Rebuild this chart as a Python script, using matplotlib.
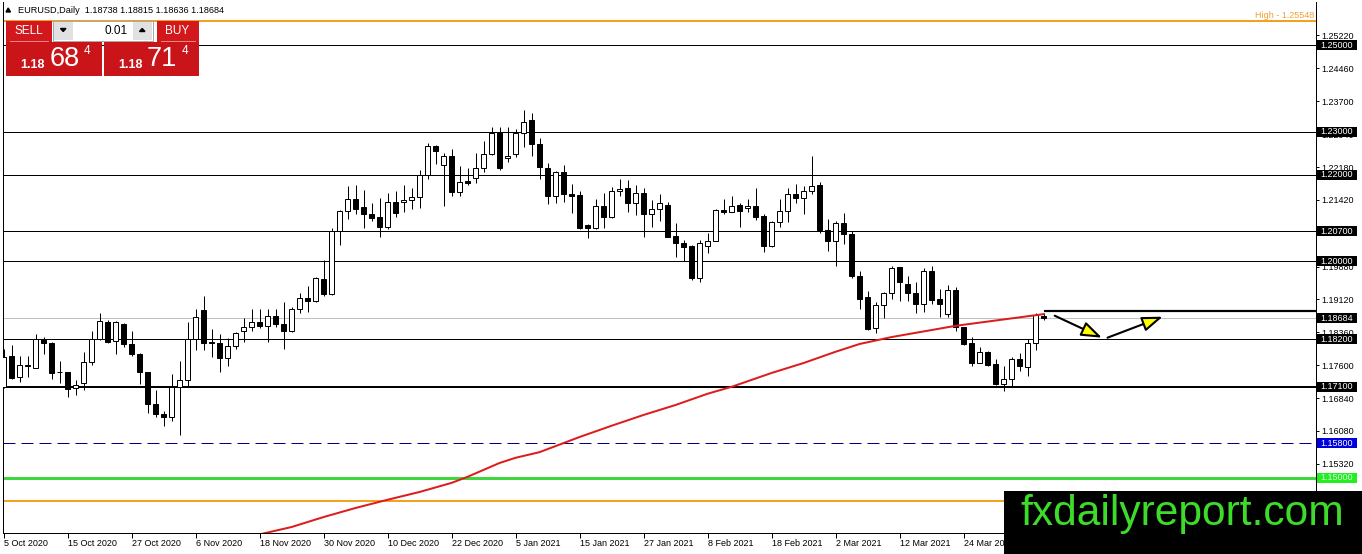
import numpy as np
import matplotlib
matplotlib.use("Agg")
import matplotlib.pyplot as plt
from matplotlib.patches import Rectangle, Polygon

plt.rcParams["font.family"] = ["Liberation Sans", "DejaVu Sans"]

# EURUSD daily candles, 5 Oct 2020 .. 7 Apr 2021
opens = [
    1.1709, 1.1781, 1.1732, 1.1760, 1.1754, 1.1820, 1.1812, 1.1745, 1.1744, 1.1707,
    1.1718, 1.1767, 1.1820, 1.1861, 1.1815, 1.1855, 1.1808, 1.1785, 1.1744, 1.1671,
    1.1647, 1.1640, 1.1709, 1.1725, 1.1821, 1.1888, 1.1813, 1.1812, 1.1776, 1.1804,
    1.1840, 1.1849, 1.1859, 1.1851, 1.1874, 1.1855, 1.1838, 1.1889, 1.1915, 1.1909,
    1.1959, 1.1925, 1.2070, 1.2116, 1.2143, 1.2125, 1.2109, 1.2102, 1.2080, 1.2137,
    1.2137, 1.2142, 1.2148, 1.2200, 1.2267, 1.2223, 1.2244, 1.2160, 1.2186, 1.2192,
    1.2215, 1.2248, 1.2296, 1.2238, 1.2247, 1.2296, 1.2327, 1.2271, 1.2215, 1.2150,
    1.2206, 1.2155, 1.2153, 1.2084, 1.2076, 1.2128, 1.2103, 1.2163, 1.2169, 1.2136,
    1.2157, 1.2109, 1.2120, 1.2130, 1.2059, 1.2042, 1.2036, 1.1962, 1.2036, 1.2047,
    1.2119, 1.2114, 1.2130, 1.2123, 1.2128, 1.2105, 1.2036, 1.2092, 1.2116, 1.2155,
    1.2147, 1.2163, 1.2177, 1.2073, 1.2046, 1.2088, 1.2063, 1.1967, 1.1917, 1.1845,
    1.1898, 1.1926, 1.1986, 1.1947, 1.1926, 1.1901, 1.1978, 1.1913, 1.1878, 1.1934,
    1.1848, 1.1811, 1.1766, 1.1790, 1.1763, 1.1717, 1.1727, 1.1774, 1.1755, 1.1811,
    1.18738,
]
highs = [
    1.1797, 1.1807, 1.1781, 1.1781, 1.1831, 1.1825, 1.1814, 1.1770, 1.1745, 1.1726,
    1.1791, 1.1839, 1.1880, 1.1865, 1.1863, 1.1858, 1.1839, 1.1788, 1.1745, 1.1703,
    1.1654, 1.1740, 1.1770, 1.1859, 1.1891, 1.1920, 1.1843, 1.1832, 1.1822, 1.1836,
    1.1868, 1.1891, 1.1891, 1.1891, 1.1891, 1.1905, 1.1895, 1.1928, 1.1942, 1.1965,
    1.2003, 1.2076, 1.2119, 1.2175, 1.2177, 1.2165, 1.2134, 1.2146, 1.2159, 1.2163,
    1.2177, 1.2169, 1.2211, 1.2273, 1.2270, 1.2251, 1.2259, 1.2220, 1.2215, 1.2250,
    1.2277, 1.2311, 1.2311, 1.2311, 1.2305, 1.2350, 1.2344, 1.2284, 1.2227, 1.2209,
    1.2223, 1.2178, 1.2163, 1.2086, 1.2144, 1.2157, 1.2171, 1.2190, 1.2188, 1.2177,
    1.2169, 1.2142, 1.2155, 1.2138, 1.2089, 1.2049, 1.2038, 1.2049, 1.2065, 1.2120,
    1.2144, 1.2150, 1.2136, 1.2143, 1.2169, 1.2109, 1.2093, 1.2143, 1.2169, 1.2179,
    1.2173, 1.2244, 1.2183, 1.2099, 1.2093, 1.2111, 1.2069, 1.1978, 1.1932, 1.1905,
    1.1930, 1.1989, 1.1988, 1.1966, 1.1952, 1.1984, 1.1989, 1.1935, 1.1945, 1.1940,
    1.1849, 1.1826, 1.1803, 1.1793, 1.1774, 1.1758, 1.1780, 1.1788, 1.1821, 1.1880,
    1.18815,
]
lows = [
    1.1707, 1.1727, 1.1722, 1.1732, 1.1753, 1.1785, 1.1729, 1.1718, 1.1687, 1.1691,
    1.1703, 1.1760, 1.1819, 1.1811, 1.1785, 1.1801, 1.1781, 1.1716, 1.1649, 1.1640,
    1.1620, 1.1630, 1.1599, 1.1712, 1.1794, 1.1794, 1.1778, 1.1744, 1.1758, 1.1797,
    1.1813, 1.1840, 1.1847, 1.1814, 1.1849, 1.1798, 1.1836, 1.1880, 1.1884, 1.1907,
    1.1921, 1.1923, 1.2038, 1.2099, 1.2109, 1.2078, 1.2094, 1.2057, 1.2074, 1.2103,
    1.2115, 1.2120, 1.2124, 1.2190, 1.2225, 1.2128, 1.2151, 1.2152, 1.2177, 1.2180,
    1.2207, 1.2246, 1.2211, 1.2230, 1.2242, 1.2265, 1.2244, 1.2190, 1.2132, 1.2136,
    1.2138, 1.2111, 1.2074, 1.2053, 1.2074, 1.2076, 1.2101, 1.2150, 1.2115, 1.2106,
    1.2057, 1.2080, 1.2094, 1.2056, 1.2011, 1.2001, 1.1957, 1.1952, 1.2019, 1.2046,
    1.2109, 1.2113, 1.2080, 1.2115, 1.2096, 1.2022, 1.2034, 1.2080, 1.2092, 1.2134,
    1.2109, 1.2155, 1.2065, 1.2025, 1.1990, 1.2040, 1.1961, 1.1891, 1.1841, 1.1834,
    1.1868, 1.1913, 1.1909, 1.1909, 1.1880, 1.1884, 1.1902, 1.1871, 1.1872, 1.1840,
    1.1807, 1.1759, 1.1764, 1.1759, 1.1714, 1.1701, 1.1712, 1.1747, 1.1736, 1.1794,
    1.18636,
]
closes = [
    1.1780, 1.1730, 1.1760, 1.1758, 1.1821, 1.1811, 1.1743, 1.1744, 1.1704, 1.1715,
    1.1767, 1.1820, 1.1861, 1.1814, 1.1859, 1.1808, 1.1785, 1.1744, 1.1671, 1.1647,
    1.1640, 1.1709, 1.1725, 1.1821, 1.1871, 1.1811, 1.1811, 1.1776, 1.1804, 1.1834,
    1.1849, 1.1859, 1.1851, 1.1874, 1.1855, 1.1838, 1.1889, 1.1915, 1.1909, 1.1961,
    1.1925, 1.2070, 1.2116, 1.2143, 1.2120, 1.2109, 1.2101, 1.2080, 1.2137, 1.2111,
    1.2142, 1.2148, 1.2200, 1.2267, 1.2255, 1.2244, 1.2160, 1.2184, 1.2180, 1.2215,
    1.2248, 1.2296, 1.2215, 1.2244, 1.2296, 1.2323, 1.2271, 1.2217, 1.2150, 1.2206,
    1.2155, 1.2152, 1.2078, 1.2076, 1.2128, 1.2103, 1.2163, 1.2167, 1.2136, 1.2157,
    1.2109, 1.2120, 1.2134, 1.2057, 1.2042, 1.2034, 1.1962, 1.2042, 1.2047, 1.2119,
    1.2114, 1.2128, 1.2117, 1.2128, 1.2103, 1.2036, 1.2092, 1.2116, 1.2155, 1.2147,
    1.2163, 1.2173, 1.2073, 1.2046, 1.2088, 1.2063, 1.1966, 1.1912, 1.1844, 1.1898,
    1.1926, 1.1984, 1.1952, 1.1926, 1.1901, 1.1978, 1.1911, 1.1902, 1.1934, 1.1848,
    1.1809, 1.1766, 1.1791, 1.1761, 1.1717, 1.1727, 1.1774, 1.1759, 1.1811, 1.1876,
    1.18684,
]

# moving average (red) at these bars
ma_bars = [32, 36, 40, 44, 48, 52, 56, 58, 60, 62, 64, 67, 70, 72, 76, 80,
           84, 88, 91, 96, 100, 104, 107, 111, 119, 130]
ma_vals = [1.1369, 1.1386, 1.1409, 1.1430, 1.1449, 1.1467, 1.1488, 1.1502,
           1.1518, 1.1534, 1.1546, 1.1559, 1.1580, 1.1594, 1.1620, 1.1645,
           1.1668, 1.1694, 1.1710, 1.1742, 1.1765, 1.1791, 1.1809, 1.1825,
           1.1851, 1.1878]

# date axis: one label every 8 bars
date_labels = ["5 Oct 2020", "15 Oct 2020", "27 Oct 2020", "6 Nov 2020", "18 Nov 2020",
               "30 Nov 2020", "10 Dec 2020", "22 Dec 2020", "5 Jan 2021", "15 Jan 2021",
               "27 Jan 2021", "8 Feb 2021", "18 Feb 2021", "2 Mar 2021", "12 Mar 2021",
               "24 Mar 2021"]
price_ticks = [1.2522, 1.2446, 1.2370, 1.2294, 1.2218, 1.2142, 1.2066, 1.1988,
               1.1912, 1.1836, 1.1760, 1.1684, 1.1608, 1.1532]

# drawn levels
thin_levels = [1.2500, 1.2300, 1.2200, 1.2070, 1.2000, 1.1820]
thick_level = 1.1710
ray_level = 1.1885
bid = 1.18684
dashed_level = 1.1580
green_level = 1.1500
high_level = 1.25548
low_level = 1.1446

boxed_levels = [1.2500, 1.2300, 1.2200, 1.2070, 1.2000, 1.18684, 1.1820, 1.1710, 1.1580, 1.1500]
boxed_colors = ["black"] * 8 + ["#0000dd", "#22ee22"]
boxed_text = ["white"] * 8 + ["white", "#d8ffd8"]

# forecast arrows (bar, price)
arrow_tails = [(131.4, 1.18744), (138.0, 1.18236)]
arrow_heads = [(137.3, 1.18236), (144.9, 1.18721)]

W, H = 1362, 554
fig = plt.figure(figsize=(W / 100, H / 100), dpi=100)
fig.patch.set_facecolor("white")
ax = fig.add_axes([3 / W, 21 / H, 1313 / W, 531 / H])
ax.set_xlim(-0.0625, 164.06)
ax.set_ylim(1.13722, 1.25994)

px = 0.72  # one pixel in points

# levels
for lv in thin_levels:
    ax.axhline(lv, color="black", lw=px, zorder=1)
ax.axhline(thick_level, color="black", lw=2 * px, zorder=1)
ax.axhline(bid, color="#c0c0c0", lw=px, zorder=1)
ax.axhline(dashed_level, color="#000080", lw=px, ls=(0, (12, 6)), zorder=1)
ax.axhline(green_level, color="#3ed83e", lw=3 * px, zorder=1)
ax.axhline(high_level, color="#f3a11e", lw=2 * px, zorder=1)
ax.axhline(low_level, color="#f3a11e", lw=2 * px, zorder=1)
ax.hlines(ray_level, len(opens) - 1, ax.get_xlim()[1], color="black", lw=2.2 * px, zorder=1)

# candles
o, hi, lo, c = (np.array(v) for v in (opens, highs, lows, closes))
x = np.arange(len(o))
up = c >= o
ax.vlines(x, lo, hi, color="black", lw=px, zorder=2)
body_lo = np.minimum(o, c)
body_h = np.maximum(np.abs(c - o), 0.00003)
ax.bar(x[up], body_h[up], bottom=body_lo[up], width=0.6, color="white",
       edgecolor="black", lw=px, zorder=3)
ax.bar(x[~up], body_h[~up], bottom=body_lo[~up], width=0.6, color="black",
       edgecolor="black", lw=px, zorder=3)

# moving average
ax.plot(ma_bars, ma_vals, color="#dd1c1c", lw=2 * px, zorder=4)

# arrows
for (x0, y0), (x1, y1) in zip(arrow_tails, arrow_heads):
    ax.annotate("", xy=(x1, y1), xytext=(x0, y0), zorder=5,
                arrowprops=dict(arrowstyle="-|>,head_length=1.25,head_width=0.45",
                                fc="#ffff00", ec="black", lw=1.5, shrinkA=0, shrinkB=0))

# axes
ax.spines["top"].set_visible(False)
for s in ["left", "right", "bottom"]:
    ax.spines[s].set_linewidth(px)
ax.yaxis.tick_right()
ax.set_yticks(price_ticks)
ax.set_yticklabels([f"{v:.5f}" for v in price_ticks])
ax.set_xticks(np.arange(len(date_labels)) * 8)
ax.set_xticklabels(date_labels, ha="left")
ax.tick_params(axis="y", direction="out", length=2.5, width=px, pad=1.5, labelsize=6.5)
ax.tick_params(axis="x", direction="out", length=3.5, width=px, pad=1, labelsize=6.5)

# boxed price labels on the right axis
ytr = ax.get_yaxis_transform()
bw = 40 / 1313
bh = 10 * 0.0002311
for lv, bg, fg in zip(boxed_levels, boxed_colors, boxed_text):
    ax.add_patch(Rectangle((1.00076, lv - bh / 2), bw, bh, transform=ytr,
                           facecolor=bg, edgecolor="none", clip_on=False, zorder=6))
    ax.text(1.00076 + bw / 2, lv, f"{lv:.5f}", transform=ytr, color=fg, fontsize=6.5,
            ha="center", va="center", clip_on=False, zorder=7)

# overlay in pixel coordinates: header, trade panel, watermark
ov = fig.add_axes([0, 0, 1, 1], zorder=10)
ov.set_xlim(0, W)
ov.set_ylim(H, 0)
ov.axis("off")
ov.patch.set_alpha(0)


def box(x0, y0, x1, y1, fc, ec="none", lw=0):
    ov.add_patch(Rectangle((x0, y0), x1 - x0, y1 - y0, facecolor=fc, edgecolor=ec, lw=lw))


ov.add_patch(Polygon([(6, 12), (10.5, 12), (8.2, 8)], closed=True, color="black"))
ov.text(18, 10.5, "EURUSD,Daily  1.18738 1.18815 1.18636 1.18684", fontsize=6.6,
        va="center", ha="left", color="black")
ov.text(1314, 15.5, "High - 1.25548", fontsize=6.5, color="#f0a030", ha="right", va="center")

red = "#d2181c"
box(6, 21, 52, 42, red)
box(157, 21, 199, 42, red)
box(6, 42, 102, 76, "#c9151a")
box(104, 42, 199, 76, "#c9151a")
ov.plot([10, 48], [41.3, 41.3], color="#f09a9a", lw=0.6)
ov.plot([161, 195], [41.3, 41.3], color="#f09a9a", lw=0.6)
box(53, 21, 153, 41, "white", ec="#a8a8a8", lw=0.7)
box(54, 22, 73, 40, "#e1e1e1")
box(133, 22, 152, 40, "#e1e1e1")
ov.add_patch(Polygon([(60.5, 28.5), (66, 28.5), (63.2, 31.5)], closed=True, color="black"))
ov.add_patch(Polygon([(139.5, 31.5), (145, 31.5), (142.2, 28.5)], closed=True, color="black"))
ov.text(28.5, 31.5, "SELL", color="white", fontsize=8.5, ha="center", va="center")
ov.text(177.5, 31.5, "BUY", color="white", fontsize=8.5, ha="center", va="center")
ov.text(128, 31, "0.01", color="black", fontsize=8.5, ha="right", va="center")
for x_small, x_big, x_sup, big in [(32, 65, 87, "68"), (130, 162, 185, "71")]:
    ov.text(x_small, 65.5, "1.18", color="white", fontsize=9, fontweight="bold",
            ha="center", va="center")
    ov.text(x_big, 59.5, big, color="white", fontsize=19.5, ha="center", va="center")
    ov.text(x_sup, 51, "4", color="white", fontsize=8.5, ha="center", va="center")

box(1004, 491, 1362, 554, "black")
ov.text(1020, 525, "fxdailyreport.com", color="#3ddc2a", fontsize=30.6, ha="left",
        va="baseline")

fig.savefig("out.png", dpi=100)
